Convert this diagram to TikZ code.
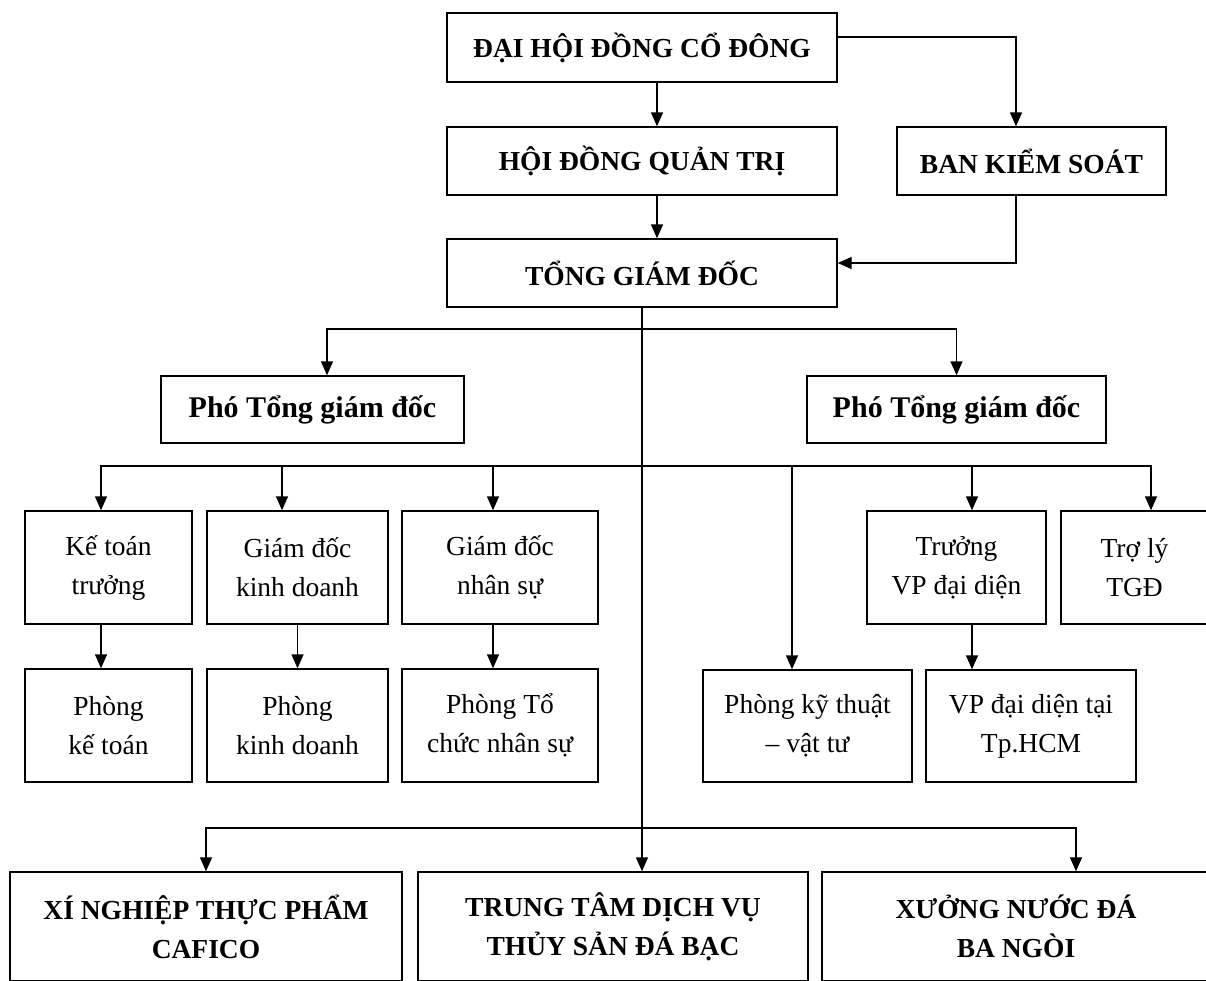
\documentclass[tikz,border=0pt]{standalone}
\usepackage{fontspec}
\setmainfont{Liberation Serif}
\usetikzlibrary{arrows.meta}
\begin{document}
\begin{tikzpicture}[x=1pt,y=-1pt,
  box/.style={draw, line width=1.4pt, inner sep=0pt, align=center, font=\fontsize{27.5}{39}\selectfont},
  bbox/.style={box, font=\fontsize{27.5}{39}\selectfont\bfseries},
  pbox/.style={box, font=\fontsize{30}{39}\selectfont\bfseries},
  arr/.style={line width=1.4pt, -{Triangle[length=14pt,width=12pt]}},
  ln/.style={line width=1.4pt}]
\clip (0,0) rectangle (1206,980);
% top levels
\node[bbox, minimum width=390pt, minimum height=69pt] (dh) at (642,47.5) {ĐẠI HỘI ĐỒNG CỔ ĐÔNG};
\node[bbox, minimum width=390pt, minimum height=68pt] (hdqt) at (642,161) {HỘI ĐỒNG QUẢN TRỊ};
\node[bbox, minimum width=269pt, minimum height=68pt] (bks) at (1031.5,161) {BAN KIỂM SOÁT};
\node[bbox, minimum width=390pt, minimum height=68pt] (tgd) at (642,273) {TỔNG GIÁM ĐỐC};
% deputies
\node[pbox, minimum width=303pt, minimum height=67pt] (pho1) at (312.5,409.5) {Phó Tổng giám đốc};
\node[pbox, minimum width=299pt, minimum height=67pt] (pho2) at (956.5,409.5) {Phó Tổng giám đốc};
% row 1
\node[box, minimum width=167pt, minimum height=113pt] (kt) at (108.5,567.5) {Kế toán\\trưởng};
\node[box, minimum width=181pt, minimum height=113pt] (gdkd) at (297.5,567.5) {Giám đốc\\kinh doanh};
\node[box, minimum width=196pt, minimum height=113pt] (gdns) at (500,567.5) {Giám đốc\\nhân sự};
\node[box, minimum width=179pt, minimum height=113pt] (tvp) at (956.5,567.5) {Trưởng\\VP đại diện};
\node[box, minimum width=147pt, minimum height=113pt] (tl) at (1134.5,567.5) {Trợ lý\\TGĐ};
% row 2
\node[box, minimum width=167pt, minimum height=113pt] (pkt) at (108.5,725.5) {Phòng\\kế toán};
\node[box, minimum width=181pt, minimum height=113pt] (pkd) at (297.5,725.5) {Phòng\\kinh doanh};
\node[box, minimum width=196pt, minimum height=113pt] (ptc) at (500,725.5) {Phòng Tổ\\chức nhân sự};
\node[box, minimum width=209pt, minimum height=112pt] (pktv) at (807.5,726) {Phòng kỹ thuật\\– vật tư};
\node[box, minimum width=210pt, minimum height=112pt] (vp) at (1031,726) {VP đại diện tại\\Tp.HCM};
% bottom units
\node[bbox, minimum width=392pt, minimum height=109pt] (xn) at (206,926.5) {XÍ NGHIỆP THỰC PHẨM\\CAFICO};
\node[bbox, minimum width=390pt, minimum height=109pt] (tt) at (613,926.5) {TRUNG TÂM DỊCH VỤ\\THỦY SẢN ĐÁ BẠC};
\node[bbox, minimum width=388pt, minimum height=109pt] (xd) at (1016,926.5) {XƯỞNG NƯỚC ĐÁ\\BA NGÒI};
% junctions
\coordinate (j1) at (642,329);
\coordinate (j2) at (642,466);
\coordinate (j3) at (642,828);
% connectors top
\draw[arr] ([xshift=15pt]dh.south) -- ([xshift=15pt]hdqt.north);
\draw[arr] ([yshift=10.5pt]dh.east) -| ([xshift=-15.5pt]bks.north);
\draw[arr] ([xshift=15pt]hdqt.south) -- ([xshift=15pt]tgd.north);
\draw[arr] ([xshift=-15.5pt]bks.south) |- ([yshift=10pt]tgd.east);
\draw[arr] (tgd.south) -- (tgd.south |- tt.north);
\draw[arr] (j1) -| ([xshift=14.5pt]pho1.north);
\draw[arr] (j1) -| (pho2.north);
% row 1 fan
\draw[arr] (j2) -| ([xshift=-7.5pt]kt.north);
\draw[arr] (j2) -| ([xshift=-15.5pt]gdkd.north);
\draw[arr] (j2) -| ([xshift=-7pt]gdns.north);
\draw[arr] (j2) -| ([xshift=-15.5pt]pktv.north);
\draw[arr] (j2) -| ([xshift=15.5pt]tvp.north);
\draw[arr] (j2) -| ([xshift=16.5pt]tl.north);
% row 1 to row 2
\draw[arr] ([xshift=-7.5pt]kt.south) -- ([xshift=-7.5pt]pkt.north);
\draw[arr] (gdkd.south) -- (pkd.north);
\draw[arr] ([xshift=-7pt]gdns.south) -- ([xshift=-7pt]ptc.north);
\draw[arr] ([xshift=15.5pt]tvp.south) -- ([xshift=15.5pt]tvp.south |- vp.north);
% bottom fan
\draw[arr] (j3) -| (xn.north);
\draw[arr] (j3) -| ([xshift=60pt]xd.north);
\end{tikzpicture}
\end{document}
